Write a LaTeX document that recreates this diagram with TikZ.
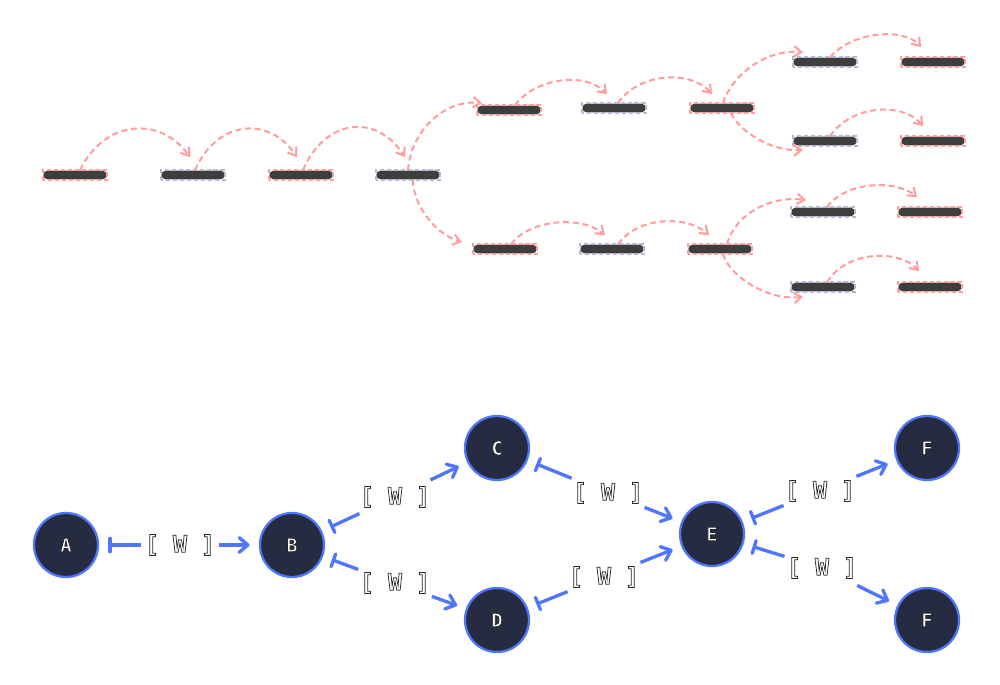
\documentclass[tikz,border=0pt]{standalone}
\usepackage{fontspec}
\setmonofont{DejaVu Sans Mono}
\usetikzlibrary{arrows.meta,calc}
\definecolor{hopred}{HTML}{FF9C9C}
\definecolor{boxgray}{HTML}{B4B8D0}
\definecolor{barfill}{HTML}{3E3E3E}
\definecolor{nodefill}{HTML}{252B40}
\definecolor{linkblue}{HTML}{5075FF}
\newcommand{\hollowtxt}[1]{\special{pdf:code q 2 Tr 0.55 w 0.15 0.15 0.15 RG 1 1 1 rg}#1\special{pdf:code Q}}

\begin{document}
\begin{tikzpicture}[
    x=0.75pt, y=-0.75pt,
    bar/.style={fill=barfill, rounded corners=3.2pt, minimum width=47.5pt, minimum height=6.5pt, inner sep=0pt, outer sep=0.4pt},
    barbox/.style={line width=1.25pt, dash pattern=on 3.2pt off 2pt},
    hop/.style={draw=hopred, line width=1.5pt, dash pattern=on 4.5pt off 2.8pt, -{Straight Barb[length=5.5pt,width=8pt]}},
    peer/.style={circle, draw=linkblue, fill=nodefill, line width=1.7pt, minimum size=48pt, inner sep=0pt, font=\ttfamily\bfseries\fontsize{14pt}{14pt}\selectfont},
    wlabel/.style={circle, minimum size=58.5pt, inner sep=0pt, font=\ttfamily\bfseries\fontsize{17.5pt}{17.5pt}\selectfont},
    link/.style={draw=linkblue, line width=2.5pt},
    linkfwd/.style={link, -{Straight Barb[length=6.5pt,width=11pt,round]}, shorten >=7pt},
    linkback/.style={link, -{Bar[width=10pt,round]}, shorten >=7pt}
]
    \useasboundingbox (0,0) rectangle (1000,685);

    % Top: trunk
    \node[bar] (b1) at (75,175) {}; \node[bar] (b2) at (193,175) {}; \node[bar] (b3) at (301,175) {}; \node[bar] (b4) at (408,175) {};

    % Top: upper and lower branch
    \node[bar] (u1) at (509,110) {}; \node[bar] (u2) at (614,108) {}; \node[bar] (u3) at (722,108) {};
    \node[bar] (d1) at (505,249) {}; \node[bar] (d2) at (612,249) {}; \node[bar] (d3) at (720,249) {};

    % Top: right pairs
    \node[bar] (p1) at (825,62) {}; \node[bar] (q1) at (933,62) {};
    \node[bar] (p2) at (825,141) {}; \node[bar] (q2) at (933,141) {};
    \node[bar] (p3) at (823,212) {}; \node[bar] (q3) at (930,212) {};
    \node[bar] (p4) at (823,287) {}; \node[bar] (q4) at (930,287) {};

    % Top: dashed boxes
    \foreach \n in {b1,b3,u1,u3,d1,d3,q1,q2,q3,q4} \draw[barbox, draw=hopred] (\n.south west) rectangle (\n.north east);
    \foreach \n in {b2,b4,u2,d2,p1,p2,p3,p4} \draw[barbox, draw=boxgray] (\n.south west) rectangle (\n.north east);

    % Top: hops
    \draw[hop] ($(b1.north)+(5,0)$) .. controls +(24,-50) and +(-30,-42) .. ($(b2.north)+(-3,-13)$);
    \draw[hop] ($(b2.north)+(2,0)$) .. controls +(22,-50) and +(-28,-42) .. ($(b3.north)+(-4,-13)$);
    \draw[hop] ($(b3.north)+(2,0)$) .. controls +(22,-52) and +(-28,-44) .. ($(b4.north)+(-3,-13)$);
    \draw[hop] (b4.north) .. controls +(3,-40) and +(-37,-4) .. ($(u1.north)+(-27,-2)$);
    \draw[hop] ($(b4.south)+(5,0)$) .. controls +(0,25) and +(-27,-8) .. ($(d1.north)+(-43,-2)$);
    \draw[hop] ($(u1.north)+(6,0)$) .. controls +(20,-27) and +(-22,-23) .. ($(u2.north)+(-7,-9)$);
    \draw[hop] ($(u2.north)+(4,0)$) .. controls +(20,-30) and +(-22,-25) .. ($(u3.north)+(-10,-9)$);
    \draw[hop] ($(d1.north)+(6,0)$) .. controls +(20,-26) and +(-22,-19) .. ($(d2.north)+(-7,-9)$);
    \draw[hop] ($(d2.north)+(6,0)$) .. controls +(20,-28) and +(-22,-20) .. ($(d3.north)+(-11,-9)$);
    \draw[hop] ($(u3.north)+(1,0)$) .. controls +(9,-28) and +(-38,-3) .. ($(p1.north)+(-22,-5)$);
    \draw[hop] ($(u3.south)+(9,0)$) .. controls +(7,17) and +(-33,2) .. ($(p2.south)+(-22,4)$);
    \draw[hop] ($(d3.north)+(7,0)$) .. controls +(8,-30) and +(-35,-5) .. ($(p3.north)+(-17,-7)$);
    \draw[hop] ($(d3.south)+(3,0)$) .. controls +(5,20) and +(-38,4) .. ($(p4.south)+(-20,5)$);
    \draw[hop] ($(p1.north)+(5,0)$) .. controls +(24,-27) and +(-16,-19) .. ($(q1.north)+(-12,-10)$);
    \draw[hop] ($(p2.north)+(5,0)$) .. controls +(22,-32) and +(-20,-24) .. ($(q2.north)+(-10,-10)$);
    \draw[hop] ($(p3.north)+(4,0)$) .. controls +(20,-27) and +(-20,-17) .. ($(q3.north)+(-13,-10)$);
    \draw[hop] ($(p4.north)+(4,0)$) .. controls +(20,-32) and +(-20,-22) .. ($(q4.north)+(-11,-11)$);

    % Bottom: peers
    \node[peer] (A) at (66,545) {\hollowtxt{A}}; \node[peer] (B) at (292,545) {\hollowtxt{B}};
    \node[peer] (C) at (497,448) {\hollowtxt{C}}; \node[peer] (D) at (497,620) {\hollowtxt{D}};
    \node[peer] (E) at (712,534) {\hollowtxt{E}};
    \node[peer] (F1) at (927,448) {\hollowtxt{F}}; \node[peer] (F2) at (927,620) {\hollowtxt{F}};

    % Bottom: labels
    \node[wlabel] (ab) at (180,545) {\hollowtxt{[ W ]}};
    \node[wlabel] (bc) at (395,497) {\hollowtxt{[ W ]}};
    \node[wlabel] (bd) at (395,583) {\hollowtxt{[ W ]}};
    \node[wlabel] (ce) at (608,493) {\hollowtxt{[ W ]}};
    \node[wlabel] (de) at (604,577) {\hollowtxt{[ W ]}};
    \node[wlabel] (ef1) at (820,491) {\hollowtxt{[ W ]}};
    \node[wlabel] (ef2) at (822,568) {\hollowtxt{[ W ]}};

    % Bottom: links
    \foreach \lab/\from/\to in {ab/A/B, bc/B/C, bd/B/D, ce/C/E, de/D/E, ef1/E/F1, ef2/E/F2} {
        \draw[linkback] (\lab) -- (\from);
        \draw[linkfwd] (\lab) -- (\to);
    }
\end{tikzpicture}
\end{document}
